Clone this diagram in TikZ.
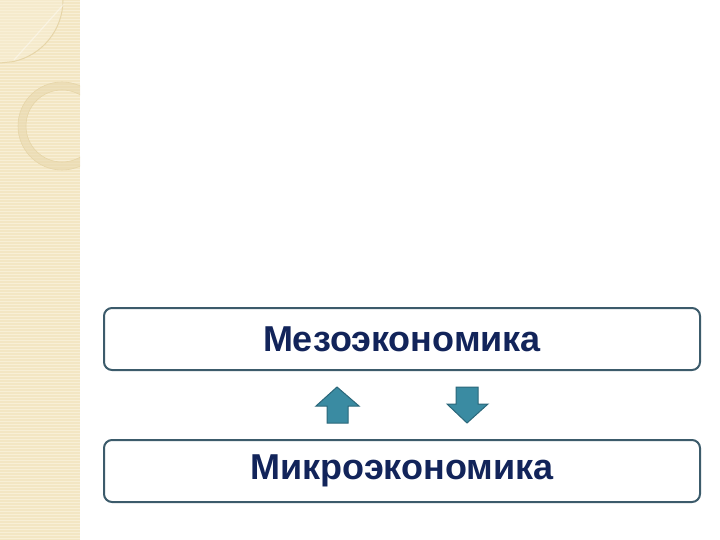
\documentclass[tikz,border=0pt]{standalone}
\usepackage{fontspec}
\setmainfont{Liberation Sans}
\definecolor{stripbg}{HTML}{F3E6C3}
\definecolor{stripline}{HTML}{F8EFD6}
\definecolor{stripdeco}{HTML}{E6D5A8}
\definecolor{boxline}{HTML}{3C5B6B}
\definecolor{boxtext}{HTML}{12245A}
\definecolor{arrowfill}{HTML}{3A8BA2}
\definecolor{arrowline}{HTML}{2B677A}
\tikzset{
  levelbox/.style={draw=boxline, line width=2pt, rounded corners=8pt, fill=white,
    minimum width=596pt, minimum height=62pt, inner sep=0pt,
    font=\fontsize{36}{40}\selectfont\bfseries, text=boxtext},
  blockarrow/.style={fill=arrowfill, draw=arrowline, line width=1pt, line join=miter}
}
\begin{document}
\begin{tikzpicture}[x=1pt,y=-1pt]
    \useasboundingbox (0,0) rectangle (720,540);
    % left strip
    \fill[stripbg] (0,0) rectangle (80,540);
    \foreach \y in {1.5,4.5,...,540} {
        \draw[stripline, line width=0.8pt] (0,\y) -- (80,\y);
    }
    \fill[stripline, opacity=0.5] (0,0) -- (63,0) arc[start angle=0, end angle=78, radius=63] -- (0,63) -- cycle;
    \draw[stripdeco, line width=1pt] (63,0) arc[start angle=0, end angle=78, radius=63] -- (0,63);
    \draw[white, opacity=0.4, line width=1.2pt] (64,4) -- (14,60);
    \begin{scope}
        \clip (0,0) rectangle (80,540);
        \fill[stripdeco, opacity=0.5, even odd rule] (62,126) circle[radius=44] (62,126) circle[radius=36];
        \draw[stripdeco, line width=0.6pt] (62,126) circle[radius=44] (62,126) circle[radius=36];
    \end{scope}
    % levels
    \node[levelbox] (meso)  at (402,339) {Мезоэкономика};
    \node[levelbox] (micro) at (402,471) {Микроэкономика};
    % arrows between levels
    \draw[blockarrow] (327,423) -- (327,406) -- (316,406) -- (337,387) -- (359,406) -- (348,406) -- (348,423) -- cycle;
    \draw[blockarrow] (456,387) -- (456,404) -- (447,404) -- (467,423) -- (488,404) -- (478,404) -- (478,387) -- cycle;
\end{tikzpicture}
\end{document}
